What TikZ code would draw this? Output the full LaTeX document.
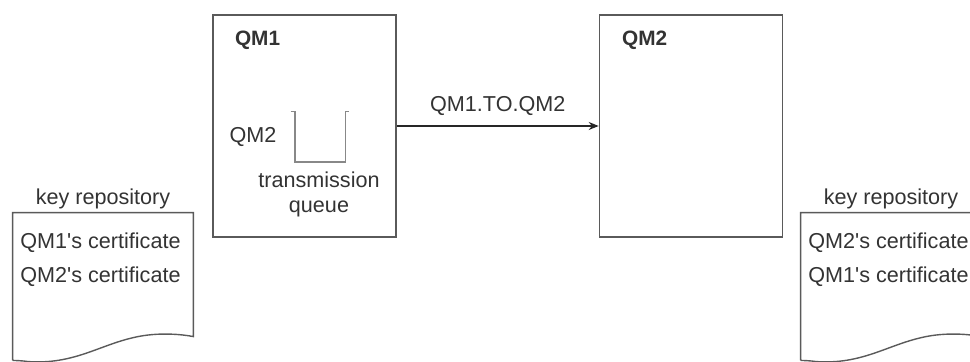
\documentclass[tikz,border=0pt]{standalone}
\usepackage{fontspec}
\setmainfont{Liberation Sans}
\usetikzlibrary{arrows.meta,calc,positioning}

\definecolor{linegray}{HTML}{5A5A5A}
\definecolor{textgray}{HTML}{333333}
\definecolor{queuegray}{HTML}{888888}

\begin{document}
\begin{tikzpicture}[
  x=0.5pt,
  y=-0.5pt,
  font=\fontsize{10.8}{13}\selectfont,
  text=textgray,
  qmgr/.style={draw=linegray, line width=0.8pt, minimum width=91.5pt, minimum height=111pt, inner sep=0pt},
  qmtitle/.style={font=\fontsize{10.4}{12}\bfseries, anchor=west},
  docarea/.style={minimum width=90pt, minimum height=73.5pt, inner sep=0pt},
  docline/.style={draw=linegray, line width=0.7pt},
  cert/.style={anchor=west, inner sep=0pt},
  qshape/.style={draw=queuegray, line width=0.9pt},
  channel/.style={draw=black!85, line width=0.7pt, -{Stealth[length=5pt, width=4pt]}}
]
  \clip (0,0) rectangle (970,362);

  % queue managers
  \node[qmgr] (qm1) at (304.5, 126) {};
  \node[qmgr] (qm2) at (691, 126) {};
  \node[qmtitle] (qm1t) at (228, 40) {QM1};
  \node[qmtitle] (qm2t) at (615, 40) {QM2};

  % transmission queue
  \node[minimum width=25pt, minimum height=25pt, inner sep=0pt] (xmitq) at (320, 137) {};
  \draw[qshape] ($(xmitq.north west)+(-4,0)$) -- (xmitq.north west) -- (xmitq.south west)
    -- (xmitq.south east) -- (xmitq.north east) -- ++(4,0);
  \node (xmitqname) at (253, 137) {QM2};
  \node[align=center, inner sep=0pt] (xmitqlbl) at (319, 194.5) {transmission\\[-0.5pt]queue};

  % channel
  \draw[channel] (qm1.east) -- (qm2.west)
    node[midway, above=1.5pt] (chl) {QM1.TO.QM2};

  % key repositories
  \node[docarea] (kr1) at (103, 286.5) {};
  \node[docarea] (kr2) at (891, 286.5) {};
  \foreach \k in {kr1,kr2} {
    \draw[docline] (\k.south west) -- (\k.north west) -- (\k.north east) -- ($(\k.north east)+(0,124)$)
      .. controls ($(\k.north east)+(-10,122)$) and ($(\k.north east)+(-35,119)$) .. ($(\k.north east)+(-60,125)$)
      .. controls ($(\k.north east)+(-95,133)$) and ($(\k.north east)+(-120,152)$) .. ($(\k.north east)+(-165,149)$)
      .. controls ($(\k.north east)+(-172,148)$) and ($(\k.north east)+(-177,148)$) .. (\k.south west);
  }
  \node[above=0.5pt of kr1.north, inner sep=1pt] (kr1t) {key repository};
  \node[above=0.5pt of kr2.north, inner sep=1pt] (kr2t) {key repository};

  \node[cert] (c11) at (20, 243) {QM1\textquotesingle s certificate};
  \node[cert] (c12) at (20, 277) {QM2\textquotesingle s certificate};
  \node[cert] (c21) at (808, 243) {QM2\textquotesingle s certificate};
  \node[cert] (c22) at (808, 277) {QM1\textquotesingle s certificate};
\end{tikzpicture}
\end{document}
